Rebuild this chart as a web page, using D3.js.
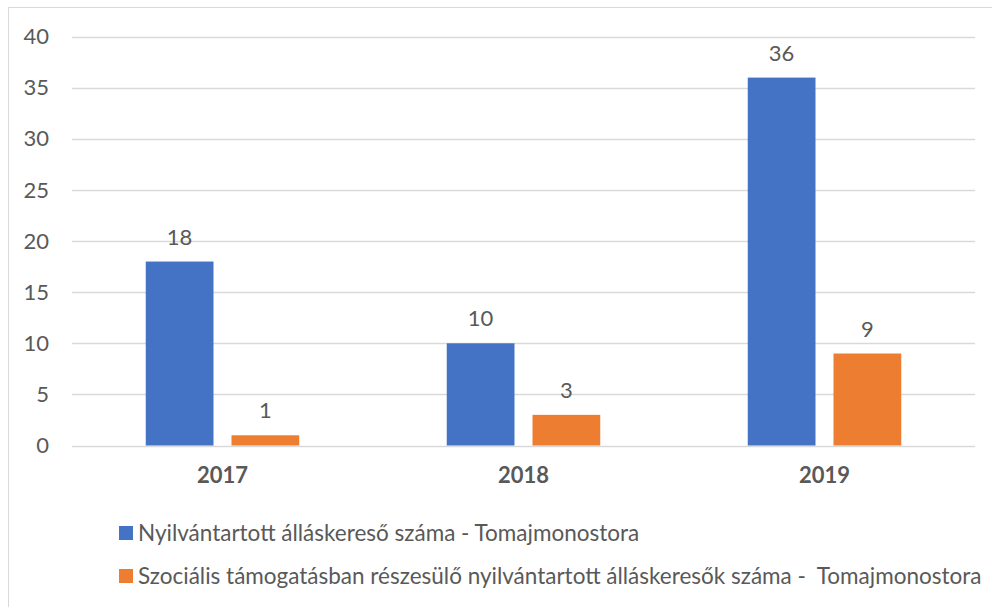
<!DOCTYPE html>
<html><head><meta charset="utf-8">
<script src="https://cdn.jsdelivr.net/npm/d3@7"></script>
<style>body{margin:0;background:#fff}svg{display:block}text{font-family:Lato,"Open Sans",sans-serif;fill:#595959}</style>
</head><body><svg id="c" width="992" height="607"></svg>
<script>
const categories = ["2017", "2018", "2019"];
const seriesNames = ["Nyilvántartott álláskereső száma - Tomajmonostora",
  "Szociális támogatásban részesülő nyilvántartott álláskeresők száma -  Tomajmonostora"];
const seriesA = [18, 10, 36];
const seriesB = [1, 3, 9];
const yTicks = [0, 5, 10, 15, 20, 25, 30, 35, 40];
const colors = ["#4472C4", "#ED7D31"];

(function () {
const svg = d3.select("#c");
svg.append("rect").attr("x", 8.5).attr("y", 7.5).attr("width", 1000).attr("height", 1000)
  .attr("fill", "none").attr("stroke", "#d9d9d9");

const pl = 72, pr = 975, pt = 36.7, pb = 445.5;
const fs = "22px";
const y = d3.scaleLinear().domain([0, 40]).range([pb, pt]);
const x0 = d3.scaleBand().domain(categories).range([pl, pr]).paddingInner(0.49).paddingOuter(0.245);
const x1 = d3.scaleBand().domain([0, 1]).range([0, x0.bandwidth()]).paddingInner(0.21);

const grid = svg.append("g");
grid.selectAll("line").data(yTicks).join("line")
  .attr("x1", pl).attr("x2", pr).attr("y1", d => Math.round(y(d)) + 0.5).attr("y2", d => Math.round(y(d)) + 0.5)
  .attr("stroke", "#d9d9d9").attr("stroke-width", 1.5);

const yAxis = d3.axisLeft(y).tickValues(yTicks).tickSize(0).tickPadding(0);
const ya = svg.append("g").attr("transform", `translate(49,0)`).call(yAxis);
ya.select(".domain").remove();
ya.selectAll("text").style("font-size", fs).attr("fill", "#595959").style("font-family", "Lato");

const xAxis = d3.axisBottom(x0).tickSize(0).tickPadding(0);
const xa = svg.append("g").attr("transform", `translate(0,467)`).call(xAxis);
xa.select(".domain").remove();
xa.selectAll("text").style("font-size", fs).style("font-weight", "bold").attr("fill", "#595959").style("font-family", "Lato");

const data = categories.map((c, i) => ({c, vals: [seriesA[i], seriesB[i]]}));
const g = svg.selectAll("g.cat").data(data).join("g").attr("class", "cat")
  .attr("transform", d => `translate(${x0(d.c)},0)`);
g.selectAll("rect").data(d => d.vals.map((v, k) => ({v, k}))).join("rect")
  .attr("x", d => x1(d.k)).attr("width", x1.bandwidth())
  .attr("y", d => y(d.v)).attr("height", d => y(0) - y(d.v))
  .attr("fill", d => colors[d.k]);
g.selectAll("text.lbl").data(d => d.vals.map((v, k) => ({v, k}))).join("text").attr("class", "lbl")
  .attr("x", d => x1(d.k) + x1.bandwidth() / 2).attr("y", d => y(d.v) - 17)
  .attr("text-anchor", "middle").style("font-size", fs).text(d => d.v);

const leg = svg.selectAll("g.leg").data(seriesNames).join("g").attr("class", "leg")
  .attr("transform", (d, i) => `translate(119,${526 + i * 43})`);
leg.append("rect").attr("width", 14).attr("height", 14).attr("fill", (d, i) => colors[i]);
leg.append("text").attr("x", 19).attr("y", 15).style("font-size", "22.5px").style("white-space", "pre").text(d => d);
})();
</script></body></html>
